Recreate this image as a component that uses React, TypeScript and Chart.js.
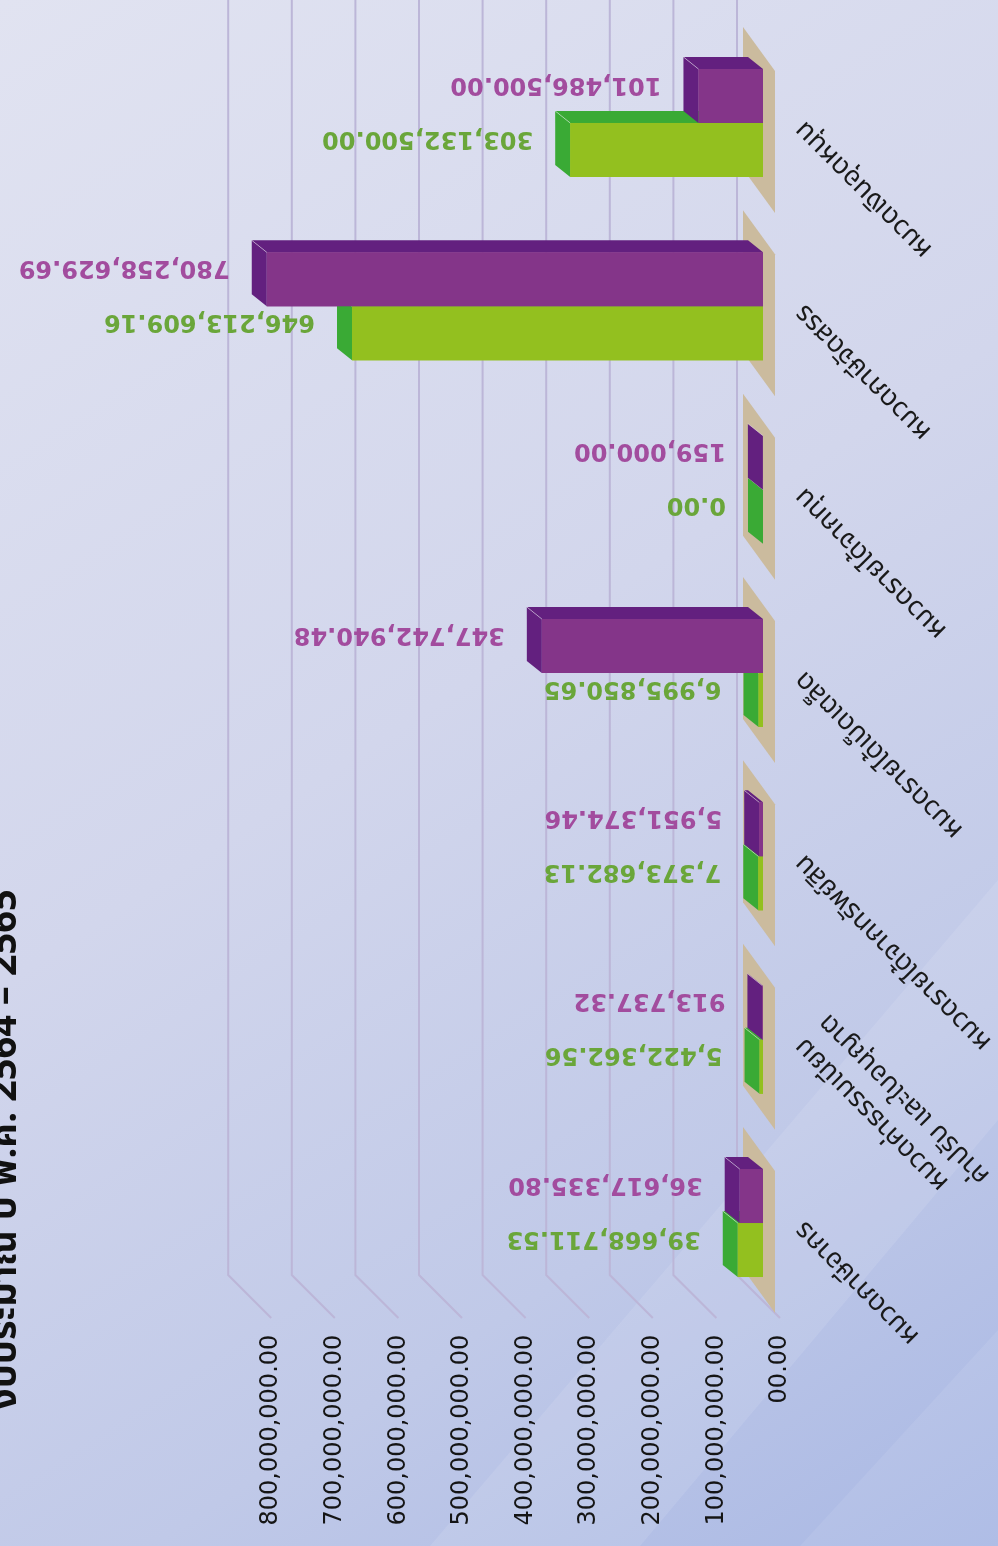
import React, { useEffect, useRef } from "react";
import { Chart, registerables } from "chart.js";

Chart.register(...registerables);

// ---------- data ----------
const CATEGORIES: (string | string[])[] = [
  "หมวดภาษีอากร",
  ["หมวดค่าธรรมเนียม", "ค่าปรับ และใบอนุญาต"],
  "หมวดรายได้จากทรัพย์สิน",
  "หมวดรายได้เบ็ดเตล็ด",
  "หมวดรายได้จากทุน",
  "หมวดภาษีจัดสรร",
  "หมวดเงินอุดหนุน",
];
const SERIES_2564 = [39668711.53, 5422362.56, 7373682.13, 6995850.65, 0, 646213609.16, 303132500.0];
const SERIES_2565 = [36617335.8, 913737.32, 5951374.46, 347742940.48, 159000.0, 780258629.69, 101486500.0];
const SERIES_LABELS = ["ปี 2564", "ปี 2565"];
const TICK_LABELS = [
  "00.00",
  "100,000,000.00",
  "200,000,000.00",
  "300,000,000.00",
  "400,000,000.00",
  "500,000,000.00",
  "600,000,000.00",
  "700,000,000.00",
  "800,000,000.00",
];
const TITLE = "งบประมาณ ปี พ.ศ. 2564 – 2565";

// ---------- style ----------
const W = 998;
const H = 1546;
const GREEN_FRONT = "#93c01f";
const GREEN_SIDE = "#3aaa35";
const PURPLE_FRONT = "#843589";
const PURPLE_SIDE = "#63207f";
const GREEN_TEXT = "#6aa63a";
const PURPLE_TEXT = "#a24c9e";
const GRID = "#bcb6d8";
const TAN = "#cbbb9e";
const DX = -15;
const DY = -12;
const THAI_FONT = "'Noto Sans Thai', 'Noto Sans', 'DejaVu Sans', sans-serif";

const fmt = (v: number) =>
  v.toLocaleString("en-US", { minimumFractionDigits: 2, maximumFractionDigits: 2 });

function poly(ctx: CanvasRenderingContext2D, pts: number[][], color: string) {
  ctx.beginPath();
  ctx.moveTo(pts[0][0], pts[0][1]);
  for (let i = 1; i < pts.length; i++) ctx.lineTo(pts[i][0], pts[i][1]);
  ctx.closePath();
  ctx.fillStyle = color;
  ctx.fill();
}

function drawBox(ctx: CanvasRenderingContext2D, el: any, front: string, side: string) {
  const { x, y, base, height } = el.getProps(["x", "y", "base", "height"], true);
  const xl = Math.min(x, base);
  const xr = Math.max(x, base);
  const yt = y - height / 2;
  const yb = y + height / 2;
  poly(ctx, [[xl, yt], [xl, yb], [xl + DX, yb + DY], [xl + DX, yt + DY]], side);
  poly(ctx, [[xl, yt], [xr, yt], [xr + DX, yt + DY], [xl + DX, yt + DY]], side);
  ctx.fillStyle = front;
  ctx.fillRect(xl, yt, xr - xl, yb - yt);
  ctx.strokeStyle = "rgba(255,255,255,0.45)";
  ctx.lineWidth = 1;
  ctx.beginPath();
  ctx.moveTo(xl, yt);
  ctx.lineTo(xl + DX, yt + DY);
  ctx.stroke();
}

// dataset 0 = 2565 (purple, upper bar), dataset 1 = 2564 (green, lower bar)
const decorPlugin = {
  id: "decor3d",
  beforeDraw(chart: any) {
    const ctx = chart.ctx as CanvasRenderingContext2D;
    ctx.save();
    const g = ctx.createLinearGradient(0, 0, W, H);
    g.addColorStop(0, "#e1e3f1");
    g.addColorStop(0.45, "#d2d6ec");
    g.addColorStop(0.75, "#c0c9e8");
    g.addColorStop(1, "#a9b8e4");
    ctx.fillStyle = g;
    ctx.fillRect(0, 0, W, H);
    ctx.fillStyle = "rgba(255,255,255,0.10)";
    ctx.beginPath();
    ctx.moveTo(430, H);
    ctx.lineTo(W, 880);
    ctx.lineTo(W, 1120);
    ctx.lineTo(640, H);
    ctx.closePath();
    ctx.fill();
    ctx.fillStyle = "rgba(255,255,255,0.08)";
    ctx.beginPath();
    ctx.moveTo(800, H);
    ctx.lineTo(W, 1330);
    ctx.lineTo(W, H);
    ctx.closePath();
    ctx.fill();
    ctx.restore();
  },
  beforeDatasetsDraw(chart: any) {
    const ctx = chart.ctx as CanvasRenderingContext2D;
    const xs = chart.scales.x;
    const ys = chart.scales.y;
    ctx.save();
    ctx.strokeStyle = GRID;
    ctx.lineWidth = 2;
    for (let i = 0; i < TICK_LABELS.length; i++) {
      const xb = xs.getPixelForValue(i * 1e8) - 26;
      ctx.beginPath();
      ctx.moveTo(xb, 0);
      ctx.lineTo(xb, 1275);
      ctx.lineTo(xb + 43, 1318);
      ctx.stroke();
    }
    const x0 = xs.getPixelForValue(0);
    for (let i = 0; i < CATEGORIES.length; i++) {
      const c = ys.getPixelForValue(i);
      poly(
        ctx,
        [
          [x0 - 20, c - 96],
          [x0 + 12, c - 52],
          [x0 + 12, c + 90],
          [x0 - 20, c + 46],
        ],
        TAN
      );
    }
    ctx.restore();
  },
  afterDatasetsDraw(chart: any) {
    const ctx = chart.ctx as CanvasRenderingContext2D;
    const p = chart.getDatasetMeta(0);
    const g = chart.getDatasetMeta(1);
    ctx.save();
    for (let i = 0; i < CATEGORIES.length; i++) {
      drawBox(ctx, g.data[i], GREEN_FRONT, GREEN_SIDE);
      drawBox(ctx, p.data[i], PURPLE_FRONT, PURPLE_SIDE);
    }
    ctx.restore();
  },
  afterDraw(chart: any) {
    const ctx = chart.ctx as CanvasRenderingContext2D;
    const ys = chart.scales.y;
    ctx.save();
    const metas = [chart.getDatasetMeta(0), chart.getDatasetMeta(1)];
    const colors = [PURPLE_TEXT, GREEN_TEXT];
    const series = [SERIES_2565, SERIES_2564];
    ctx.font = "bold 24px 'DejaVu Sans', sans-serif";
    ctx.textAlign = "left";
    ctx.textBaseline = "middle";
    metas.forEach((m, d) => {
      m.data.forEach((el: any, i: number) => {
        const { x, y, base } = el.getProps(["x", "y", "base"], true);
        const ax = Math.min(x, base) + DX - 22;
        const ay = y + DY;
        ctx.save();
        ctx.translate(ax, ay);
        ctx.rotate(Math.PI);
        ctx.fillStyle = colors[d];
        ctx.fillText(fmt(series[d][i]), 0, 0);
        ctx.restore();
      });
    });
    ctx.font = "27px " + THAI_FONT;
    ctx.fillStyle = "#1a1a1a";
    ctx.textAlign = "right";
    ctx.textBaseline = "middle";
    for (let i = 0; i < CATEGORIES.length; i++) {
      const c = ys.getPixelForValue(i);
      const lines = Array.isArray(CATEGORIES[i]) ? (CATEGORIES[i] as string[]) : [CATEGORIES[i] as string];
      ctx.save();
      ctx.translate(801, c + 1);
      ctx.rotate((-3 * Math.PI) / 4);
      lines.forEach((t, k) => ctx.fillText(t, 0, k * 34));
      ctx.restore();
    }
    ctx.save();
    ctx.translate(16, 1410);
    ctx.rotate(-Math.PI / 2);
    ctx.font = "bold 38px " + THAI_FONT;
    ctx.fillStyle = "#111";
    ctx.textAlign = "left";
    ctx.textBaseline = "alphabetic";
    ctx.fillText(TITLE, 0, 0);
    ctx.restore();
    ctx.restore();
  },
};

export default function App() {
  const ref = useRef<HTMLCanvasElement | null>(null);
  useEffect(() => {
    if (!ref.current) return;
    const chart = new Chart(ref.current, {
      type: "bar",
      data: {
        labels: CATEGORIES,
        datasets: [
          { label: SERIES_LABELS[1], data: SERIES_2565, backgroundColor: PURPLE_FRONT },
          { label: SERIES_LABELS[0], data: SERIES_2564, backgroundColor: GREEN_FRONT },
        ],
      },
      options: {
        indexAxis: "y",
        responsive: false,
        animation: false,
        layout: { padding: { top: 31.3, left: 254.2, right: 0, bottom: 0 } },
        datasets: { bar: { categoryPercentage: 0.589, barPercentage: 1 } },
        plugins: {
          legend: { display: false },
          tooltip: { enabled: false },
          title: { display: false },
        },
        scales: {
          x: {
            type: "linear",
            position: "bottom",
            reverse: true,
            min: 0,
            max: 8e8,
            grid: { display: false, drawTicks: false },
            border: { display: false },
            ticks: {
              stepSize: 1e8,
              autoSkip: false,
              minRotation: 90,
              maxRotation: 90,
              padding: 20,
              labelOffset: 17,
              color: "#151515",
              font: { family: "'DejaVu Sans', sans-serif", size: 24 },
              callback: (v: any) => TICK_LABELS[Math.round(Number(v) / 1e8)],
            },
            afterFit: (s: any) => {
              s.height = H - 1314.7;
            },
          },
          y: {
            type: "category",
            position: "right",
            reverse: true,
            offset: true,
            grid: { display: false },
            border: { display: false },
            ticks: { display: false },
            afterFit: (s: any) => {
              s.width = 235;
            },
          },
        },
      } as any,
      plugins: [decorPlugin],
    });
    return () => chart.destroy();
  }, []);
  return (
    <div style={{ position: "absolute", left: 0, top: 0, width: W, height: H, overflow: "hidden" }}>
      <canvas ref={ref} width={W} height={H} style={{ display: "block" }} />
    </div>
  );
}
